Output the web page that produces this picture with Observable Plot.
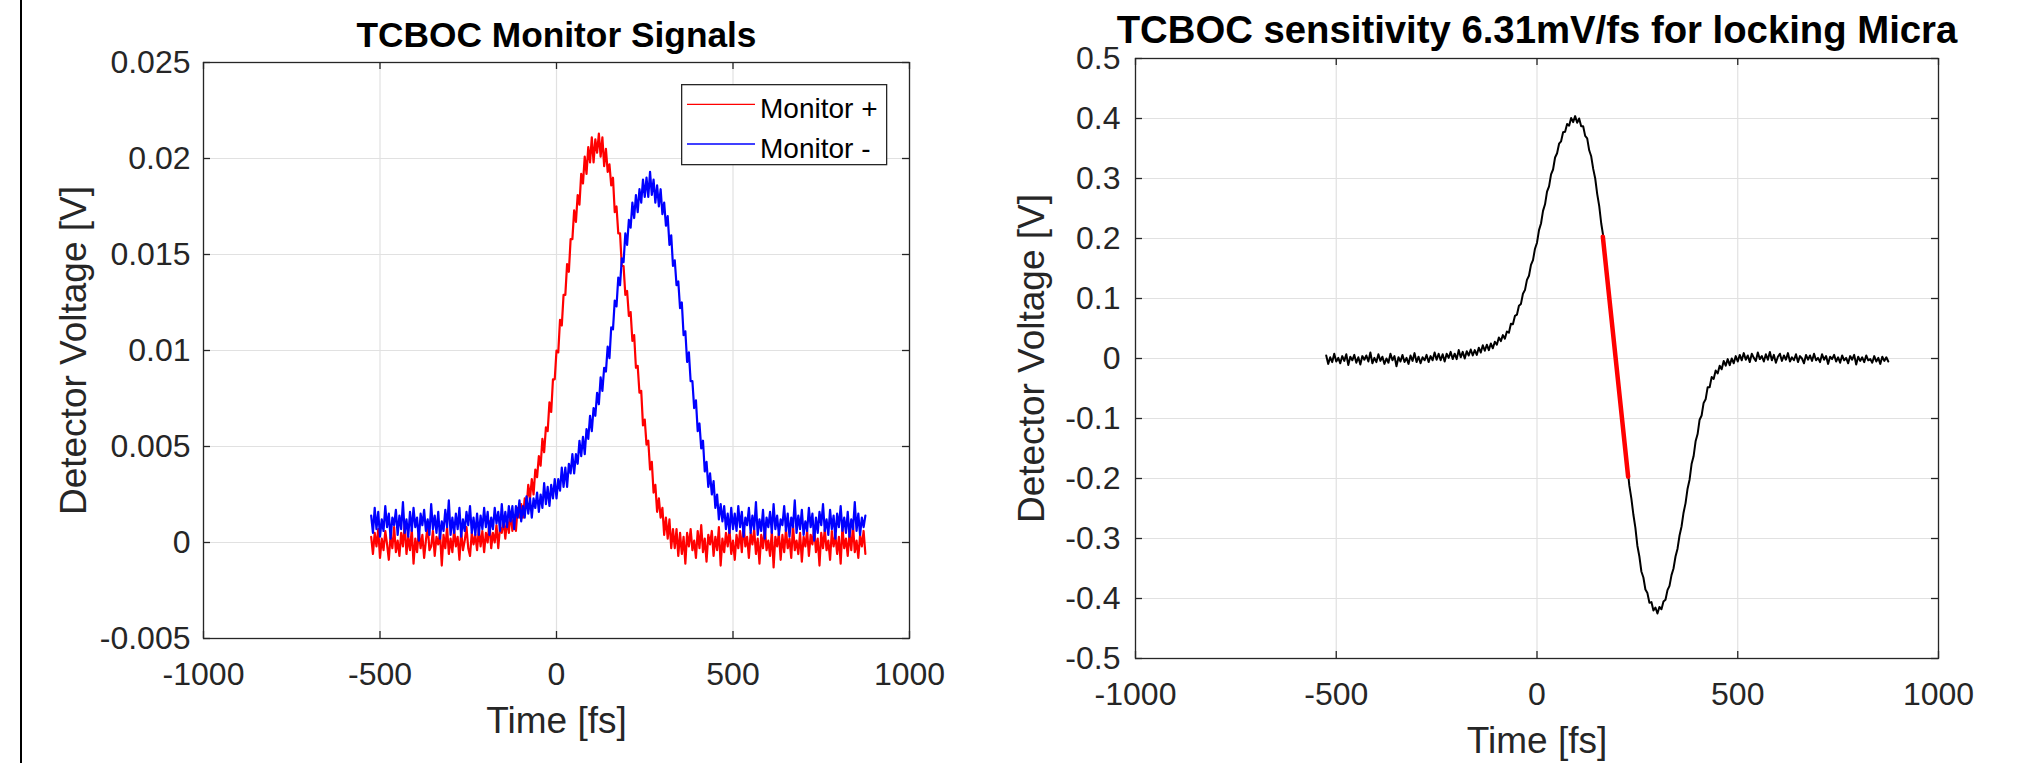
<!DOCTYPE html>
<html>
<head>
<meta charset="utf-8">
<script src="https://cdn.jsdelivr.net/npm/d3@7"></script>
<script src="https://cdn.jsdelivr.net/npm/@observablehq/plot@0.6"></script>
<style>
  html, body { margin: 0; padding: 0; background: #fff; }
  #fig { position: relative; width: 2041px; height: 763px; overflow: hidden; background: #fff;
         font-family: "Liberation Sans", Arial, Helvetica, sans-serif; }
  #fig > * { position: absolute; }
  #border { left: 20px; top: 0; width: 2px; height: 763px; background: #000; }
</style>
</head>
<body>
<div id="fig"><div id="border"></div></div>
<script>
// ---------------- data ----------------
// sampling of the delay axis (fs)
const timeStart = -525, timeEnd = 875, timeStep = 5;
const time = d3.range(timeStart, timeEnd + timeStep / 2, timeStep);

// Monitor + (V)
const monitorPlus = [
  .0003,-.0006,.0005,-.0002,.0007,-.0008,.0002,-.0004,.0006,-.0001,-.0009,.0004,-.0003,.0008,-.0005,.0001,-.0007,.0005,-.0002,.0010,
  -.0006,.0003,-.0004,.0007,-.0011,.0002,-.0005,.0006,-.0003,.0004,-.0008,.0001,.0009,-.0004,-.0002,.0006,-.0007,.0003,-.0001,.0005,
  -.0012,.0004,-.0003,.0008,-.0006,.0002,-.0005,.0007,-.0002,.0003,-.0009,.0006,-.0004,.0001,.0008,-.0003,-.0007,.0005,-.0001,.0004,
  -.0004,.0007,-.0002,.0006,-.0005,.0005,0,.0011,-.0003,.0005,0,.0009,-.0003,.0008,.0005,.0012,.0002,.0012,.0005,.0016,
  .0006,.0014,.0006,.0018,.0013,.0020,.0013,.0023,.0018,.0030,.0023,.0033,.0025,.0038,.0034,.0045,.0040,.0054,.0047,.0060,
  .0058,.0073,.0068,.0085,.0085,.0100,.0099,.0116,.0113,.0129,.0129,.0145,.0141,.0158,.0158,.0173,.0167,.0181,.0176,.0192,
  .0187,.0201,.0192,.0206,.0198,.0211,.0198,.0210,.0203,.0213,.0201,.0211,.0196,.0205,.0193,.0197,.0186,.0190,.0172,.0175,
  .0161,.0161,.0144,.0144,.0129,.0131,.0118,.0120,.0105,.0108,.0091,.0092,.0078,.0079,.0061,.0064,.0051,.0053,.0038,.0042,
  .0026,.0030,.0016,.0023,.0013,.0018,.0004,.0013,.0002,.0012,-.0003,.0007,-.0003,.0007,-.0007,.0005,
  -.0006,.0003,-.0011,.0005,-.0002,.0007,-.0004,.0001,-.0008,.0006,-.0003,.0009,-.0005,.0002,-.0010,.0004,-.0001,.0006,-.0007,.0003,
  -.0004,.0008,-.0012,.0002,-.0005,.0005,-.0002,.0007,-.0006,.0001,-.0009,.0004,-.0003,.0006,-.0005,.0010,-.0002,.0003,-.0008,.0005,
  -.0001,.0007,-.0006,.0002,-.0011,.0004,-.0003,.0008,-.0004,.0001,-.0007,.0006,-.0013,.0003,-.0002,.0005,-.0009,.0004,-.0005,.0007,
  -.0003,.0002,-.0008,.0009,-.0004,.0001,-.0006,.0005,-.0010,.0003,-.0002,.0006,-.0007,.0004,-.0001,.0008,-.0005,.0002,-.0012,.0005,
  -.0003,.0007,-.0004,.0001,-.0009,.0006,-.0002,.0004,-.0006,.0003,-.0011,.0008,-.0003,.0002,-.0007,.0005,-.0004,.0009,-.0005,.0001,
  -.0008,.0004,-.0002,.0006,-.0006
];

// Monitor - (V)
const monitorMinus = [
  .0014,.0005,.0018,.0007,.0016,.0003,.0012,.0006,.0019,.0008,.0015,.0002,.0013,.0009,.0017,.0004,.0014,.0007,.0021,.0005,
  .0012,.0003,.0016,.0006,.0018,.0008,.0013,.0001,.0015,.0009,.0017,.0006,.0012,.0004,.0020,.0007,.0014,.0005,.0016,.0002,
  .0011,.0006,.0017,.0008,.0022,.0004,.0013,.0005,.0015,.0007,.0018,.0003,.0012,.0006,.0016,.0009,.0019,.0005,.0013,.0004,
  .0015,.0004,.0014,.0007,.0018,.0008,.0016,.0004,.0013,.0007,.0018,.0010,.0016,.0006,.0020,.0008,.0016,.0008,.0019,.0011,
  .0019,.0007,.0019,.0013,.0022,.0011,.0019,.0013,.0024,.0015,.0023,.0013,.0023,.0018,.0026,.0016,.0025,.0018,.0031,.0020,
  .0029,.0019,.0030,.0023,.0033,.0023,.0033,.0027,.0039,.0029,.0039,.0029,.0041,.0036,.0046,.0036,.0046,.0041,.0053,.0045,
  .0055,.0046,.0059,.0054,.0066,.0058,.0070,.0066,.0078,.0072,.0086,.0079,.0091,.0089,.0102,.0096,.0112,.0111,.0126,.0123,
  .0138,.0134,.0148,.0146,.0161,.0155,.0168,.0164,.0177,.0169,.0181,.0172,.0184,.0177,.0189,.0180,.0190,.0180,.0193,.0181,
  .0189,.0177,.0186,.0175,.0184,.0171,.0177,.0165,.0170,.0155,.0160,.0144,.0147,.0134,.0136,.0122,.0125,.0108,.0110,.0094,
  .0099,.0084,.0084,.0070,.0074,.0058,.0062,.0049,.0053,.0037,.0042,.0029,.0036,.0025,.0032,.0018,.0025,.0012,.0020,.0011,
  .0019,.0007,.0015,.0005,.0018,.0007,
  .0015,.0006,.0019,.0008,.0016,.0003,.0013,.0009,.0018,.0005,.0014,.0007,.0021,.0004,.0012,.0006,.0017,.0002,.0013,.0008,
  .0016,.0005,.0020,.0007,.0014,.0004,.0012,.0009,.0019,.0006,.0015,.0003,.0013,.0008,.0022,.0005,.0014,.0007,.0017,.0004,
  .0011,.0006,.0018,.0008,.0015,.0001,.0013,.0005,.0016,.0009,.0020,.0006,.0012,.0004,.0017,.0007,.0014,.0002,.0015,.0008,
  .0019,.0006,.0013,.0005,.0016,.0003,.0012,.0007,.0021,.0006,.0015,.0004,.0013,.0008,.0014
];

// TCBOC error signal (V)
const errorSignal = [
  .005,-.009,.002,-.006,.008,-.005,.001,-.008,.004,-.004,.007,-.011,.003,-.003,.006,-.007,.002,-.010,.004,-.002,
  .005,-.005,.010,-.008,.001,-.006,.007,-.004,.003,-.009,0,-.007,.008,-.003,.004,-.013,.002,-.005,.006,-.006,
  .001,-.009,.005,-.004,.009,-.006,.003,-.008,.002,-.003,
  .006,-.006,.004,-.003,.010,-.002,.008,-.003,.007,-.005,.008,.001,.011,-.001,.008,-.001,.014,.002,.011,0,
  .012,.005,.015,.005,.014,.006,.018,.010,.022,.013,.023,.014,.025,.017,.028,.023,.035,.029,.039,.033,
  .045,.043,.058,.057,.071,.073,.088,.091,.108,.114,.131,.138,.156,.164,.183,.193,.214,.225,.246,.257,
  .278,.287,.307,.315,.335,.342,.358,.362,.377,.378,.391,.388,.401,.394,.404,.393,.400,.387,.387,.371,
  .367,.347,.337,.316,.300,.274,.254,.225,.204,.168,.140,.104,.076,.040,.012,-.024,-.052,-.088,-.116,-.152,
  -.180,-.212,-.233,-.260,-.282,-.312,-.330,-.355,-.365,-.385,-.391,-.407,-.406,-.420,-.415,-.425,-.414,-.418,-.405,-.402,
  -.386,-.379,-.361,-.350,-.330,-.317,-.295,-.280,-.257,-.241,-.217,-.202,-.176,-.163,-.138,-.126,-.102,-.095,-.074,-.068,
  -.048,-.048,-.031,-.034,-.020,-.025,-.012,-.018,-.004,-.012,-.001,-.011,0,-.008,.004,-.005,
  .006,-.003,.009,-.002,.005,-.006,.008,.001,-.004,.010,-.001,.004,-.005,.007,-.002,.011,-.003,.006,-.007,.003,
  .008,-.004,.005,-.002,.009,-.005,.002,-.003,.007,-.006,.004,0,-.008,.006,-.002,.005,-.004,.008,-.003,.001,
  -.006,.007,-.002,.004,-.009,.003,-.001,.006,-.005,.002,-.007,.005,-.003,.001,-.008,.004,-.002,.006,-.010,.003,
  -.004,.002,-.006,.005,-.003,-.001,-.007,.004,-.005,.001,-.009,.003,-.004,.002,-.005
];

// linear-slope segment used for locking (6.31 mV/fs)
const fitTime = [164, 227];
const fitVolt = [0.203, -0.197];

// ticks & labels
const xTicks = [-1000, -500, 0, 500, 1000];
const xTickLabels = ["-1000", "-500", "0", "500", "1000"];
const leftYTicks = [-0.005, 0, 0.005, 0.01, 0.015, 0.02, 0.025];
const leftYTickLabels = ["-0.005", "0", "0.005", "0.01", "0.015", "0.02", "0.025"];
const rightYTicks = [-0.5, -0.4, -0.3, -0.2, -0.1, 0, 0.1, 0.2, 0.3, 0.4, 0.5];
const rightYTickLabels = ["-0.5", "-0.4", "-0.3", "-0.2", "-0.1", "0", "0.1", "0.2", "0.3", "0.4", "0.5"];
const legendLabels = ["Monitor +", "Monitor -"];
const legendColors = ["#ff0000", "#0000ff"];

// ---------------- helpers ----------------
const FONT = '"Liberation Sans", Arial, Helvetica, sans-serif';
const AX = "#262626", GRID = "#e1e1e1";
const lookup = (ticks, labels) => d => labels[ticks.indexOf(d)];
const rows = vals => time.map((t, i) => ({t, v: vals[i]})).filter(d => d.v !== undefined);

function boxTicks(xT, yT, iw, ih) {
  const len = 7, s = {stroke: AX, strokeWidth: 1.3};
  return [
    Plot.tickY(yT, {y: d => d, insetRight: iw - len, ...s}),
    Plot.tickY(yT, {y: d => d, insetLeft: iw - len, ...s}),
    Plot.tickX(xT, {x: d => d, insetTop: ih - len, ...s}),
    Plot.tickX(xT, {x: d => d, insetBottom: ih - len, ...s})
  ];
}

function panel(o) {
  const iw = o.w - o.ml - o.mr, ih = o.h - o.mt - o.mb;
  const svg = Plot.plot({
    width: o.w, height: o.h,
    marginLeft: o.ml, marginRight: o.mr, marginTop: o.mt, marginBottom: o.mb,
    style: {fontFamily: FONT, background: "transparent", overflow: "visible", maxWidth: "none"},
    x: {domain: [-1000, 1000], label: null},
    y: {domain: o.yDomain, label: null},
    marks: [
      Plot.gridX(xTicks, {stroke: GRID, strokeOpacity: 1, strokeWidth: 1.2}),
      Plot.gridY(o.yTicks, {stroke: GRID, strokeOpacity: 1, strokeWidth: 1.2}),
      ...o.data,
      Plot.frame({stroke: AX, strokeWidth: 1.3}),
      ...boxTicks(xTicks, o.yTicks, iw, ih),
      Plot.axisX(xTicks, {tickSize: 0, tickPadding: 24, tickFormat: lookup(xTicks, xTickLabels),
                          fontSize: 32, fill: AX, label: null}),
      Plot.axisY(o.yTicks, {tickSize: 0, tickPadding: o.yPad, tickFormat: lookup(o.yTicks, o.yLabels),
                            fontSize: 32, fill: AX, label: null}),
      Plot.text([o.title], {frameAnchor: "top", dy: -15.5, lineAnchor: "bottom", textAnchor: "middle",
                            fontSize: o.titleSize, fontWeight: "bold", fill: "#000"}),
      Plot.text(["Time [fs]"], {frameAnchor: "bottom", dy: 94, lineAnchor: "bottom", textAnchor: "middle",
                                fontSize: 37, fill: AX}),
      Plot.text(["Detector Voltage [V]"], {frameAnchor: "left", dx: o.ylabDx, rotate: -90, textAnchor: "middle",
                                           lineAnchor: "bottom", fontSize: 37, fill: AX})
    ]
  });
  svg.style.left = o.left + "px";
  svg.style.top = "0px";
  svg.style.position = "absolute";
  document.getElementById("fig").appendChild(svg);
  return svg;
}

// ---------------- left panel ----------------
panel({
  left: 0, w: 1000, h: 763, ml: 203, mr: 91, mt: 62, mb: 125,
  yDomain: [-0.005, 0.025], yTicks: leftYTicks, yLabels: leftYTickLabels, yPad: 13, ylabDx: -118,
  title: "TCBOC Monitor Signals", titleSize: 35.3,
  data: [
    Plot.line(rows(monitorPlus), {x: "t", y: "v", stroke: legendColors[0], strokeWidth: 2.2}),
    Plot.line(rows(monitorMinus), {x: "t", y: "v", stroke: legendColors[1], strokeWidth: 2.2})
  ]
});

// ---------------- right panel ----------------
panel({
  left: 1000, w: 1041, h: 763, ml: 135, mr: 103, mt: 58, mb: 105,
  yDomain: [-0.5, 0.5], yTicks: rightYTicks, yLabels: rightYTickLabels, yPad: 15, ylabDx: -92,
  title: "TCBOC sensitivity 6.31mV/fs for locking Micra", titleSize: 38.3,
  data: [
    Plot.line(rows(errorSignal), {x: "t", y: "v", stroke: "#000", strokeWidth: 2}),
    Plot.line(fitTime.map((t, i) => ({t, v: fitVolt[i]})), {x: "t", y: "v", stroke: "#ff0000", strokeWidth: 4.5})
  ]
});

// ---------------- legend (inside left axes, top-right) ----------------
const lg = d3.select("#fig").append("svg")
  .style("left", "681px").style("top", "84px")
  .attr("width", 208).attr("height", 83)
  .style("font-family", FONT);
lg.append("rect").attr("x", 0.65).attr("y", 0.65).attr("width", 205).attr("height", 80)
  .attr("fill", "#fff").attr("stroke", AX).attr("stroke-width", 1.3);
legendLabels.forEach((lab, i) => {
  const y = 20.3 + i * 39.7;
  lg.append("line").attr("x1", 6).attr("x2", 74).attr("y1", y).attr("y2", y)
    .attr("stroke", legendColors[i]).attr("stroke-width", 1.3);
  lg.append("text").attr("x", 79).attr("y", y + 14).attr("font-size", 28).attr("fill", "#000").text(lab);
});
</script>
</body>
</html>
